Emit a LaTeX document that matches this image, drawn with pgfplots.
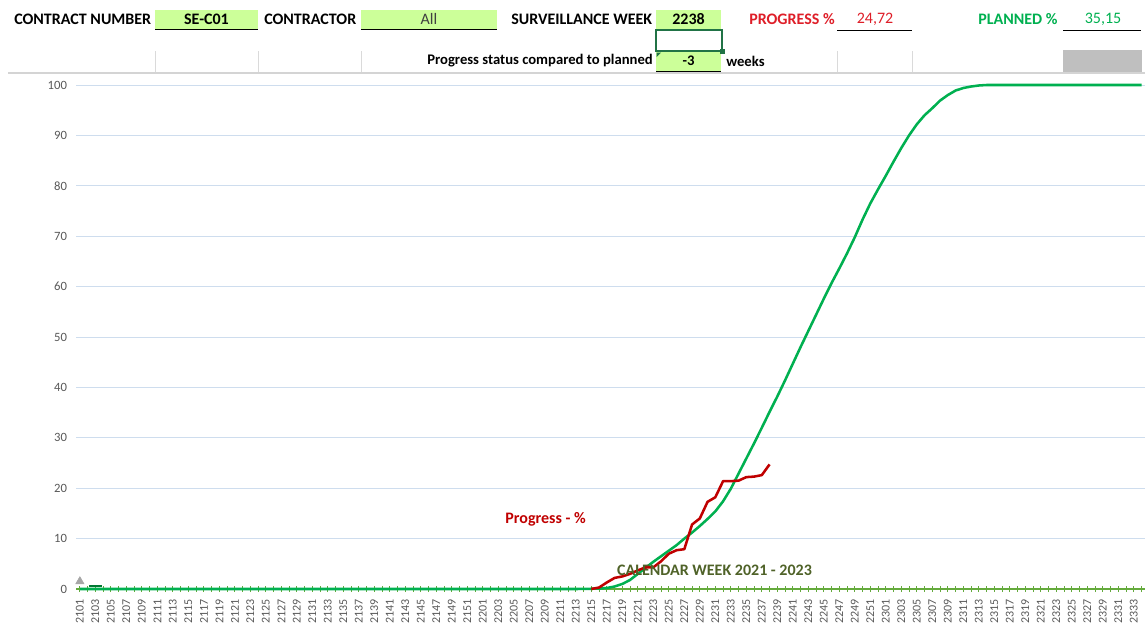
\documentclass[border=0pt]{standalone}
\usepackage{fontspec}
\setmainfont{Carlito}
\usepackage{pgfplots}
\pgfplotsset{compat=1.18}
\definecolor{pgreen}{RGB}{0,176,80}
\definecolor{pred}{RGB}{192,0,0}
\definecolor{hred}{RGB}{222,30,40}
\definecolor{cellgreen}{RGB}{204,255,153}
\definecolor{gridblue}{RGB}{206,221,238}
\definecolor{axgreen}{RGB}{100,170,60}
\definecolor{olivetxt}{RGB}{79,98,40}
\definecolor{ticktext}{RGB}{89,89,89}
\definecolor{selgreen}{RGB}{33,115,70}
\definecolor{sepgray}{RGB}{212,212,212}
\definecolor{cellline}{RGB}{218,218,218}
\begin{document}
\begin{tikzpicture}
\path[use as bounding box] (0,0) rectangle (858.75pt,-468.75pt);
\clip (0,0) rectangle (858.75pt,-468.75pt);
\begin{axis}[
  at={(57pt,-441.75pt)}, anchor=south west,
  scale only axis, width=801.75pt, height=378pt,
  xmin=-0.5, xmax=137.45, ymin=0, ymax=100,
  clip=false,
  axis x line*=bottom, axis y line*=left,
  x axis line style={-, draw=axgreen, line width=0.8pt},
  y axis line style={draw=none},
  xtick={0,2,...,138},
  minor xtick={1,3,...,137},
  xticklabels={2101,2103,2105,2107,2109,2111,2113,2115,2117,2119,2121,2123,2125,2127,2129,2131,2133,2135,2137,2139,2141,2143,2145,2147,2149,2151,2201,2203,2205,2207,2209,2211,2213,2215,2217,2219,2221,2223,2225,2227,2229,2231,2233,2235,2237,2239,2241,2243,2245,2247,2249,2251,2301,2303,2305,2307,2309,2311,2313,2315,2317,2319,2321,2323,2325,2327,2329,2331,2333,2335},
  tick align=center,
  major tick length=4.5pt, minor tick length=4.5pt,
  xtick style={draw=axgreen, line width=0.6pt},
  minor tick style={draw=axgreen, line width=0.6pt},
  xticklabel style={rotate=90, anchor=east, inner sep=0pt, font=\fontsize{9}{9}\selectfont, text=ticktext},
  xticklabel shift=5.5pt,
  ytick={0,10,...,100},
  ytick style={draw=none},
  yticklabel style={anchor=east, inner sep=0pt, font=\fontsize{9.5}{9.5}\selectfont, text=ticktext},
  yticklabel shift=4.3pt,
  /pgf/number format/assume math mode=true,
  ymajorgrids,
  grid style={gridblue, line width=0.75pt},
]
\addplot[pgreen, line width=1.9pt, line join=round] coordinates {
(0,0)(1,0)(2,0)(3,0)(4,0)(5,0)(6,0)(7,0)(8,0)(9,0)(10,0)(11,0)(12,0)(13,0)(14,0)(15,0)
(16,0)(17,0)(18,0)(19,0)(20,0)(21,0)(22,0)(23,0)(24,0)(25,0)(26,0)(27,0)(28,0)(29,0)(30,0)(31,0)
(32,0)(33,0)(34,0)(35,0)(36,0)(37,0)(38,0)(39,0)(40,0)(41,0)(42,0)(43,0)(44,0)(45,0)(46,0)(47,0)
(48,0)(49,0)(50,0)(51,0)(52,0)(53,0)(54,0)(55,0)(56,0)(57,0)(58,0)(59,0)(60,0)(61,0)(62,0)(63,0)
(64,0)(65,0.02)(66,0.05)(67,0.08)(68,0.2)(69,0.5)(70,1.0)(71,1.8)(72,3.0)(73,4.2)
(74,5.4)(75,6.5)(76,7.6)(77,8.7)(78,10.0)(79,11.2)(80,12.5)(81,13.9)(82,15.4)(83,17.4)
(84,19.9)(85,22.9)(86,25.9)(87,28.9)(88,32.0)(89,35.15)(90,38.2)(91,41.4)(92,44.7)(93,48.0)
(94,51.2)(95,54.4)(96,57.6)(97,60.7)(98,63.6)(99,66.6)(100,69.8)(101,73.3)(102,76.5)(103,79.3)
(104,82.0)(105,84.8)(106,87.5)(107,90.0)(108,92.2)(109,94.0)(110,95.4)(111,96.9)(112,98.0)(113,98.9)
(114,99.4)(115,99.7)(116,99.9)(117,100)(118,100)(119,100)(120,100)(121,100)(122,100)(123,100)
(124,100)(125,100)(126,100)(127,100)(128,100)(129,100)(130,100)(131,100)(132,100)(133,100)
(134,100)(135,100)(136,100)(137,100)
};
\addplot[pred, line width=1.9pt, line join=round] coordinates {
(66,0)(67,0.3)(68,1.3)(69,2.2)(70,2.5)(71,3.0)(72,3.7)(73,4.3)(74,4.3)(75,5.5)
(76,7.0)(77,7.7)(78,7.9)(79,12.8)(80,14.0)(81,17.3)(82,18.2)(83,21.4)(84,21.4)(85,21.5)
(86,22.2)(87,22.3)(88,22.6)(89,24.72)
};
\addplot[color={rgb,255:red,0;green,120;blue,50}, line width=1.4pt] coordinates {(1.2,0.6)(2.8,0.6)};
\addplot[only marks, mark=triangle*, mark size=3.6pt, color=gray!70] coordinates {(0,1.5)};
\node[font=\bfseries\fontsize{12}{14}\selectfont, text=pred] at (axis cs:60.1,13.9) {Progress - \%};
\node[font=\bfseries\fontsize{12}{14}\selectfont, text=olivetxt] at (axis cs:81.9,3.8) {CALENDAR WEEK 2021 - 2023};
\end{axis}
\begin{scope}[x=0.75pt, y=-0.75pt]
% separator line
\draw[sepgray, line width=1.5pt] (8,73) -- (1145,73);
% row 2 cell lines
\foreach \xx in {155,258,361,837,912} \draw[cellline, line width=0.75pt] (\xx,51) -- (\xx,72);
% green cells
\fill[cellgreen] (155,10) rectangle (258,29);
\fill[cellgreen] (361,10) rectangle (497,29);
\fill[cellgreen] (656,10) rectangle (721,29);
\fill[cellgreen] (656,52) rectangle (721,71);
\draw[black, line width=0.75pt] (155,29.5) -- (258,29.5);
\draw[black, line width=0.75pt] (361,29.5) -- (497,29.5);
\draw[black, line width=0.75pt] (656,29.5) -- (721,29.5);
\draw[black, line width=0.75pt] (656,71.5) -- (721,71.5);
\draw[black, line width=0.75pt] (837,30) -- (912,30);
\draw[black, line width=0.75pt] (1063,30) -- (1141,30);
\fill[gray!50] (1063,50) rectangle (1142,72);
% selected cell
\draw[selgreen, line width=1.6pt] (656,30) rectangle (722,51);
\fill[selgreen] (719.5,48.5) rectangle (724.5,53.5);
\fill[selgreen] (656.5,52.5) -- (661,52.5) -- (656.5,57) -- cycle;
% texts row 1
\begin{scope}[every node/.style={font=\bfseries\fontsize{12}{14}\selectfont, inner sep=0pt}]
\node[anchor=west] at (14,19) {CONTRACT NUMBER};
\node at (206.5,19) {SE-C01};
\node[anchor=west] at (264,19) {CONTRACTOR};
\node[font=\fontsize{12}{14}\selectfont, text=black!75] at (429,19) {All};
\node[anchor=west] at (511,19) {SURVEILLANCE WEEK};
\node at (688.5,19) {2238};
\node[anchor=west, text=hred] at (749,19) {PROGRESS \%};
\node[font=\fontsize{12}{14}\selectfont, text=hred] at (875,19) {24,72};
\node[anchor=west, text=pgreen] at (978,19) {PLANNED \%};
\node[font=\fontsize{12}{14}\selectfont, text=pgreen] at (1103,19) {35,15};
\end{scope}
% row 2
\begin{scope}[every node/.style={font=\bfseries\fontsize{11}{13}\selectfont, inner sep=0pt}]
\node[anchor=east] at (653,61) {Progress status compared to planned};
\node at (688.5,61) {-3};
\node[anchor=west] at (726,61) {weeks};
\end{scope}
\end{scope}
\end{tikzpicture}
\end{document}
